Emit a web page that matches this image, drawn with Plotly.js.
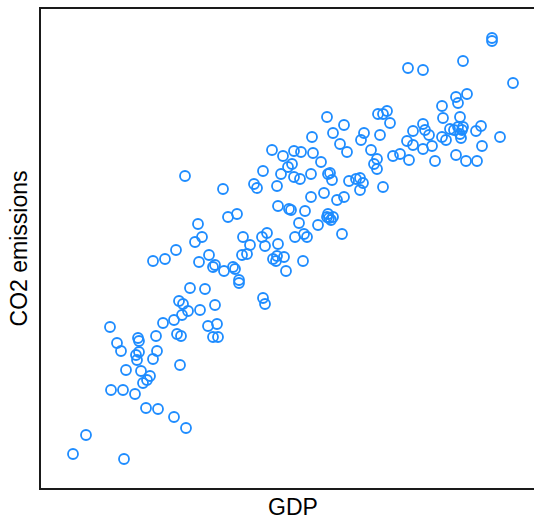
<!DOCTYPE html>
<html>
<head>
<meta charset="utf-8">
<script src="https://cdn.plot.ly/plotly-3.0.1.min.js"></script>
<style>
  html, body { margin: 0; padding: 0; overflow: hidden; background: #fff; }
  #chart { width: 550px; height: 518px; }
</style>
</head>
<body>
<div id="chart"></div>
<script>
// GDP (index units) for each country
const gdp = [
  6.4, 9.0, 16.6, 13.8, 15.2, 16.0, 19.4, 19.6, 23.0, 24.4,
  26.6, 28.2, 29.4, 31.8, 33.4, 35.2, 27.2, 28.0, 34.4, 35.4,
  19.6, 19.0, 19.2, 23.2, 22.4, 27.8, 17.0, 20.0, 21.8, 21.2,
  20.4, 14.0, 16.4, 18.8, 21.0, 23.4, 26.6, 29.0, 27.6, 28.4,
  34.8, 29.8, 32.8, 22.4, 24.8, 27.0, 31.6, 33.6, 34.8, 34.4,
  31.4, 32.2, 30.8, 28.8, 36.4, 37.4, 39.2, 36.6, 38.4, 38.8,
  40.4, 41.8, 40.2, 41.2, 39.6, 39.6, 44.4, 44.8, 44.2, 45.2,
  44.8, 47.4, 46.4, 47.0, 47.2, 48.6, 49.0, 47.4, 49.6, 50.0,
  52.8, 51.6, 50.8, 52.6, 53.2, 52.4, 55.4, 56.6, 54.0, 57.4,
  57.2, 58.4, 58.0, 57.6, 59.2, 60.6, 60.2, 42.6, 43.2, 47.2,
  44.4, 48.0, 49.4, 50.2, 50.6, 51.8, 54.0, 56.0, 57.4, 57.8,
  58.2, 46.2, 48.4, 50.6, 52.0, 54.4, 57.2, 60.6, 54.2, 58.4,
  59.8, 61.2, 64.6, 64.0, 61.6, 63.0, 63.8, 64.4, 63.8, 66.0,
  67.4, 68.4, 69.2, 69.8, 67.8, 67.2, 66.6, 67.2, 68.4, 70.4,
  71.8, 73.6, 73.2, 74.4, 74.4, 76.4, 76.8, 77.6, 76.4, 78.2,
  78.8, 80.2, 81.0, 80.4, 80.2, 83.0, 83.4, 85.2, 83.8, 81.8,
  82.6, 83.4, 84.4, 83.8, 84.2, 84.0, 87.0, 88.0, 88.2, 91.8,
  83.0, 85.0, 87.2, 73.4, 76.4, 84.4, 90.2, 90.2, 94.4
];

// CO2 emissions (index units) for the same countries
const co2 = [
  6.8, 10.6, 5.8, 32.2, 29.0, 27.4, 30.0, 29.4, 30.4, 33.0,
  33.6, 34.6, 35.4, 35.6, 32.4, 32.8, 30.8, 30.4, 30.2, 30.2,
  27.2, 26.6, 25.6, 27.4, 25.8, 24.6, 23.6, 23.4, 22.4, 21.6,
  21.0, 19.6, 19.6, 18.8, 16.0, 15.8, 14.2, 12.0, 37.4, 36.8,
  36.6, 40.0, 39.8, 45.4, 45.8, 47.6, 45.2, 46.6, 44.6, 44.2,
  52.8, 50.2, 49.2, 62.4, 59.8, 54.2, 54.8, 43.4, 44.2, 43.8,
  50.2, 48.6, 46.6, 46.8, 41.6, 41.0, 38.0, 36.8, 50.2, 51.0,
  48.4, 48.8, 45.8, 45.4, 46.4, 46.2, 43.4, 56.4, 55.8, 55.6,
  55.4, 53.0, 50.2, 50.8, 50.2, 45.4, 52.6, 59.0, 58.2, 54.8,
  54.2, 54.2, 53.6, 54.0, 57.6, 58.2, 50.8, 60.8, 60.0, 60.4,
  63.4, 62.8, 64.2, 64.8, 62.2, 61.8, 62.8, 65.2, 62.8, 63.0,
  61.6, 67.6, 66.4, 67.4, 67.2, 67.0, 74.2, 72.6, 70.2, 71.0,
  68.8, 67.2, 71.0, 69.6, 61.4, 61.8, 62.0, 61.0, 59.6, 67.6,
  74.8, 74.8, 75.4, 73.0, 70.6, 65.8, 64.8, 63.8, 60.2, 66.4,
  66.8, 65.6, 69.4, 68.6, 71.4, 72.8, 71.6, 70.6, 67.8, 68.4,
  65.4, 70.2, 69.6, 74.0, 76.4, 78.2, 77.0, 78.8, 74.2, 71.8,
  71.6, 72.2, 72.2, 70.8, 71.6, 70.0, 71.4, 72.4, 68.4, 70.2,
  66.6, 65.4, 65.4, 84.0, 83.6, 85.4, 90.0, 89.4, 81.0
];

const xTitle = 'GDP';
const yTitle = 'CO2 emissions';

const trace = {
  type: 'scatter',
  mode: 'markers',
  x: gdp,
  y: co2,
  marker: {
    symbol: 'circle-open',
    size: 10,
    color: '#1E8CFF',
    line: { width: 1.8, color: '#1E8CFF' }
  },
  hoverinfo: 'x+y'
};

const axisBase = {
  showgrid: false,
  zeroline: false,
  showticklabels: false,
  ticks: '',
  showline: true,
  mirror: true,
  linecolor: '#1a1a1a',
  linewidth: 1.6
};

const layout = {
  width: 550,
  height: 518,
  margin: { l: 41, r: 5, t: 9, b: 30 },
  paper_bgcolor: '#fff',
  plot_bgcolor: '#fff',
  showlegend: false,
  font: { family: '"Liberation Sans", Arial, sans-serif', color: '#000' },
  xaxis: Object.assign({}, axisBase, {
    range: [0, 100.8],
    automargin: false
  }),
  yaxis: Object.assign({}, axisBase, {
    range: [0, 95.8],
    title: { text: yTitle, font: { size: 23 }, standoff: 5 },
    automargin: false
  }),
  // x-axis title placed as a paper annotation so it can sit close to the page bottom
  annotations: [{
    text: xTitle,
    xref: 'paper', yref: 'paper',
    x: 0.5, y: -0.04,
    xanchor: 'center', yanchor: 'middle',
    showarrow: false,
    font: { size: 23, color: '#000' }
  }]
};

Plotly.newPlot('chart', [trace], layout, { displayModeBar: false, staticPlot: true });
</script>
</body>
</html>
